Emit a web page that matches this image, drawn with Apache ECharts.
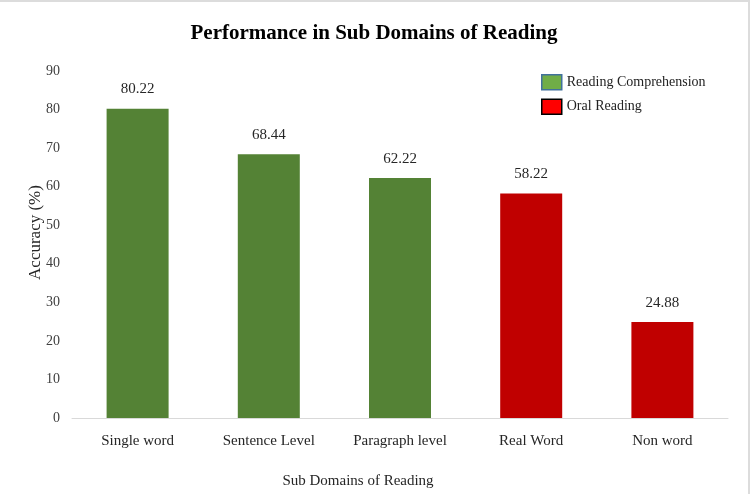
<!DOCTYPE html>
<html lang="en">
<head>
    <meta charset="UTF-8">
    <title>Performance in Sub Domains of Reading</title>
    <script src="https://cdn.jsdelivr.net/npm/echarts@6/dist/echarts.min.js"></script>
    <style>
        html, body { margin: 0; padding: 0; background: #fff; }
        #chart {
            width: 750px;
            height: 494px;
            box-sizing: border-box;
            border-top: 2px solid #dcdcdc;
            border-right: 2px solid #dcdcdc;
        }
    </style>
</head>
<body>
    <div id="chart"></div>
    <script>
        const categories = ['Single word', 'Sentence Level', 'Paragraph level', 'Real Word', 'Non word'];
        const comprehension = [80.22, 68.44, 62.22, '-', '-'];
        const oral = ['-', '-', '-', 58.22, 24.88];
        const yTicks = { min: 0, max: 90, step: 10 };

        const serif = '"Liberation Serif", "DejaVu Serif", serif';

        const chart = echarts.init(document.getElementById('chart'));
        const labelOpt = {
            show: true,
            position: 'top',
            distance: 12,
            fontFamily: serif,
            fontSize: 15,
            color: '#262626'
        };
        chart.setOption({
            animation: false,
            title: {
                text: 'Performance in Sub Domains of Reading',
                left: 'center',
                top: 16,
                textStyle: {
                    fontFamily: serif,
                    fontWeight: 'bold',
                    fontSize: 21,
                    color: '#000'
                }
            },
            legend: {
                orient: 'vertical',
                left: 536,
                top: 67,
                icon: 'rect',
                itemWidth: 20,
                itemHeight: 15,
                itemGap: 8,
                textStyle: { fontFamily: serif, fontSize: 14, color: '#222' },
                data: [
                    { name: 'Reading Comprehension', itemStyle: { color: '#70AD47', borderColor: '#41719C', borderWidth: 1.5 } },
                    { name: 'Oral Reading', itemStyle: { color: '#FF0000', borderColor: '#000', borderWidth: 1.5 } }
                ]
            },
            grid: {
                left: 72,
                right: 20,
                top: 69,
                bottom: 76
            },
            xAxis: {
                type: 'category',
                data: categories,
                name: 'Sub Domains of Reading',
                nameLocation: 'middle',
                nameGap: 56,
                nameTextStyle: {
                    fontFamily: serif,
                    fontSize: 15,
                    color: '#262626',
                    padding: [0, 84, 0, 0]
                },
                axisTick: { show: false },
                axisLine: { lineStyle: { color: '#d9d9d9', width: 1 } },
                axisLabel: {
                    margin: 16,
                    fontFamily: serif,
                    fontSize: 15,
                    color: '#262626'
                }
            },
            yAxis: {
                type: 'value',
                min: yTicks.min,
                max: yTicks.max,
                interval: yTicks.step,
                name: 'Accuracy (%)',
                nameLocation: 'middle',
                nameGap: 28,
                nameMoveOverlap: false,
                nameTextStyle: {
                    fontFamily: serif,
                    fontSize: 17,
                    color: '#262626',
                    padding: [0, 0, 0, 24]
                },
                splitLine: { show: false },
                axisLine: { show: false },
                axisTick: { show: false },
                axisLabel: {
                    margin: 12,
                    fontFamily: serif,
                    fontSize: 14,
                    color: '#404040'
                }
            },
            series: [
                {
                    name: 'Reading Comprehension',
                    type: 'bar',
                    stack: 'all',
                    barWidth: 62,
                    data: comprehension,
                    itemStyle: { color: '#548235' },
                    label: labelOpt
                },
                {
                    name: 'Oral Reading',
                    type: 'bar',
                    stack: 'all',
                    barWidth: 62,
                    data: oral,
                    itemStyle: { color: '#C00000' },
                    label: labelOpt
                }
            ]
        });
    </script>
</body>
</html>
